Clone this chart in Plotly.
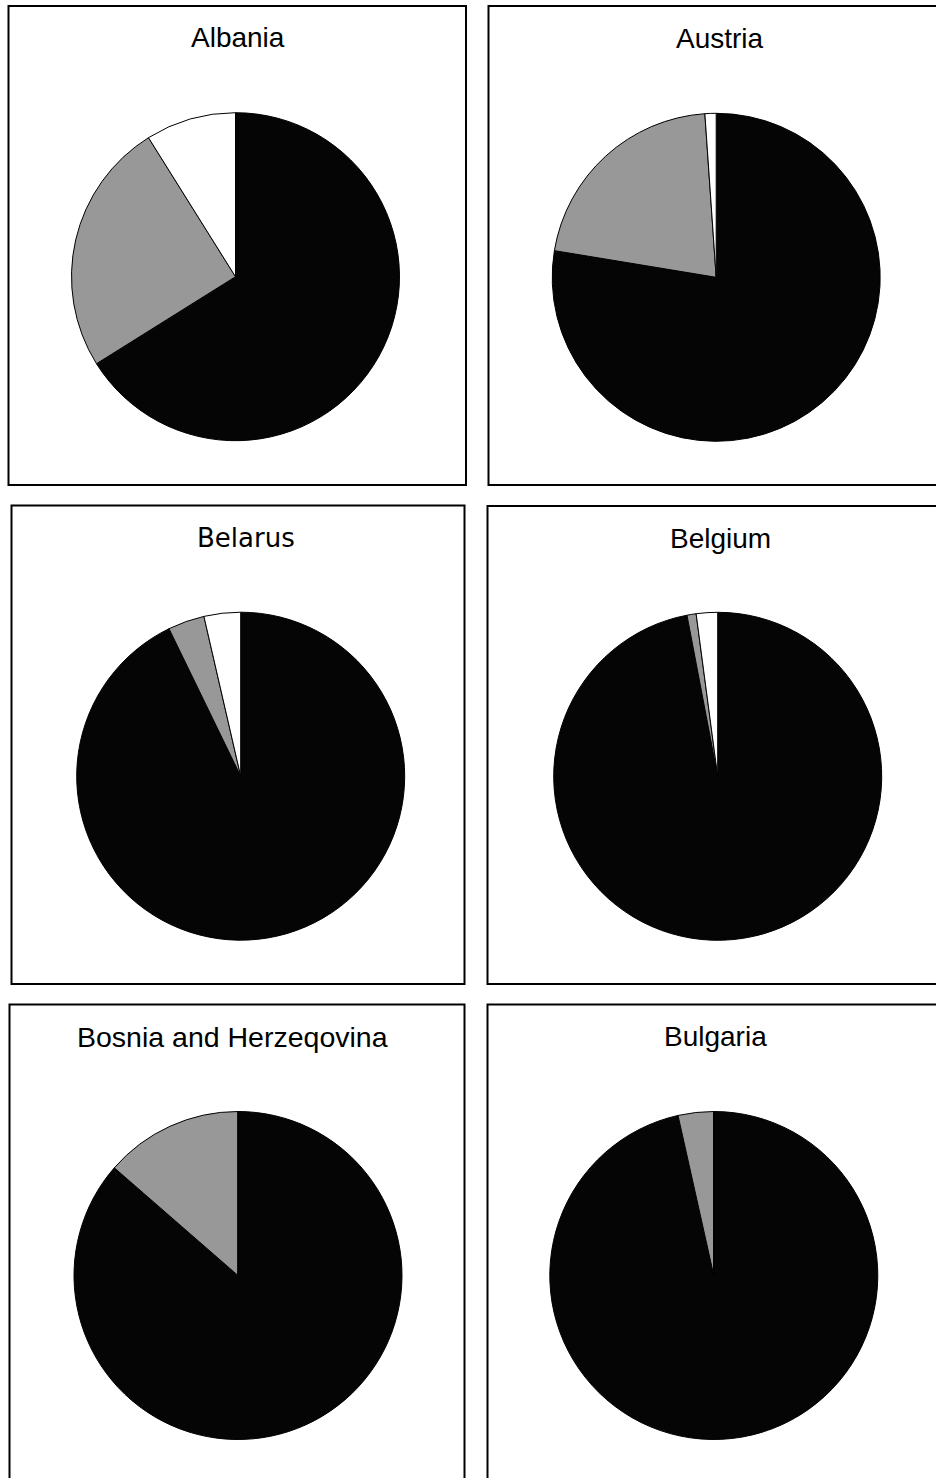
import plotly.graph_objects as go

# ---- data (percent shares) ----
countries = ["Albania", "Austria", "Belarus", "Belgium", "Bosnia and Herzeqovina", "Bulgaria"]
slice_labels = ["Share 1", "Share 2", "Share 3"]
black_share = [66.1, 77.6, 92.8, 97.0, 86.4, 96.5]
gray_share = [25.0, 21.3, 3.6, 0.9, 13.6, 3.5]
white_share = [8.9, 1.1, 3.6, 2.1, 0.0, 0.0]
slice_colors = ["#050505", "#979897", "#ffffff"]

# ---- layout geometry (screen pixels in a 936 x 1478 window) ----
W, H = 936, 1478
R = 164
pie_centers = [(235.5, 276.7), (716.2, 277.3), (240.7, 776.2),
               (717.7, 776.3), (238.0, 1275.5), (713.8, 1275.5)]
boxes = [(8.5, 6, 466, 485), (488.5, 6, 960, 485), (11.5, 505.5, 464.5, 984),
         (487.5, 506, 960, 984), (9.5, 1004.5, 464.5, 1510), (487.5, 1004.5, 960, 1510)]
title_pos = [(238.5, 37.5), (719.5, 39), (245.5, 538), (720.3, 538.3), (232.7, 1036.5), (715.7, 1036)]
title_fonts = [("Liberation Sans", 28), ("Liberation Sans", 28), ("DejaVu Sans", 26),
               ("Liberation Sans", 28), ("Liberation Sans", 28.5), ("Liberation Sans", 28)]


def px(x):
    return x / W


def py(y):
    return 1 - y / H


fig = go.Figure()
for i, name in enumerate(countries):
    cx, cy = pie_centers[i]
    fig.add_trace(go.Pie(
        labels=slice_labels,
        values=[black_share[i], gray_share[i], white_share[i]],
        name=name,
        sort=False,
        direction="clockwise",
        rotation=0,
        textinfo="none",
        hoverinfo="label+value",
        marker=dict(colors=slice_colors, line=dict(color="#000000", width=1)),
        domain=dict(x=[px(cx - R), px(cx + R)], y=[py(cy + R), py(cy - R)]),
        showlegend=False,
    ))

shapes = []
for (x0, y0, x1, y1) in boxes:
    shapes.append(dict(type="rect", xref="paper", yref="paper",
                       x0=px(x0), x1=px(x1), y0=py(y1), y1=py(y0),
                       line=dict(color="#000000", width=2), fillcolor="rgba(0,0,0,0)"))

annotations = []
for i, name in enumerate(countries):
    tx, ty = title_pos[i]
    fam, size = title_fonts[i]
    annotations.append(dict(text=name, x=px(tx), y=py(ty), xref="paper", yref="paper",
                            xanchor="center", yanchor="middle", showarrow=False,
                            font=dict(family=fam, size=size, color="#000000")))

fig.update_layout(
    width=W, height=H,
    margin=dict(l=0, r=0, t=0, b=0),
    paper_bgcolor="#ffffff",
    plot_bgcolor="#ffffff",
    shapes=shapes,
    annotations=annotations,
    showlegend=False,
)

fig.write_html(
    "out.html",
    config={"displayModeBar": False},
    post_script="document.body.style.margin='0';document.body.style.overflow='hidden';",
)
